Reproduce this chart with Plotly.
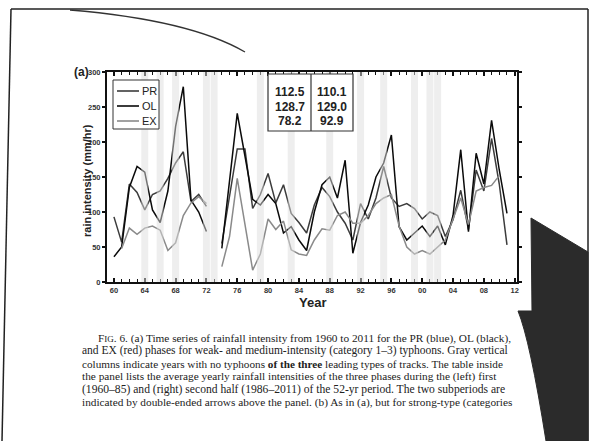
import plotly.graph_objects as go

# ---------------- data ----------------
years = list(range(1960, 2012))

pr = [93, 57, 140, 128, 103, 125, 130, 148, 170, 186, 115, 125, 108, None,
      55, 120, 190, 190, 105, 125, 155, 113, 139, 98, 85, 70, 110, 135, 122,
      100, 84, 60, 112, 90, 120, 165, 120, 108, 112, 105, 90, 100, 95, 65,
      89, 131, 75, 160, 130, 205, 140, 53]

ol = [36, 50, 135, 165, 157, 103, 85, 130, 222, 279, 117, 100, 72, None,
      48, 145, 241, 180, 118, 110, 125, 112, 70, 79, 60, 45, 100, 139, 150,
      120, 174, 41, 85, 110, 150, 170, 210, 79, 60, 70, 80, 65, 80, 53,
      95, 189, 72, 184, 140, 231, 160, 98]

ex = [None, 48, 77, 68, 77, 80, 74, 45, 56, 95, 113, 122, 112, None,
      22, 65, 148, 85, 17, 40, 90, 75, 87, 46, 40, 38, 60, 76, 74,
      95, 100, 84, 84, 95, 112, 120, 125, 80, 50, 40, 45, 40, 50, 60,
      90, 120, 82, 130, 135, 138, 152, None]

gray_years = [1964, 1966, 1968, 1972, 1973, 1979, 1983, 1988, 1992, 1995,
              1999, 2001, 2002]

series_names = ["PR", "OL", "EX"]
series_colors = ["#3c3c3c", "#0a0a0a", "#8a8a8a"]

table_left = ["112.5", "128.7", "78.2"]
table_right = ["110.1", "129.0", "92.9"]

xtick_vals = list(range(1960, 2013, 4))
xtick_text = ["60", "64", "68", "72", "76", "80", "84", "88", "92", "96",
              "00", "04", "08", "12"]
ytick_vals = [0, 50, 100, 150, 200, 250, 300]

caption = [
    "F<span style='font-size:9px'>IG</span>. 6. (a) Time series of rainfall intensity from 1960 to 2011 for the PR (blue), OL (black),",
    "and EX (red) phases for weak- and medium-intensity (category 1–3) typhoons. Gray vertical",
    "columns indicate years with no typhoons <b>of the three</b> leading types of tracks. The table inside",
    "the panel lists the average yearly rainfall intensities of the three phases during the (left) first",
    "(1960–85) and (right) second half (1986–2011) of the 52-yr period. The two subperiods are",
    "indicated by double-ended arrows above the panel. (b) As in (a), but for strong-type (categories",
]
caption_sizes = [11.3, 11.5, 11.2, 11.3, 11.6, 11.3]

# ---------------- layout helpers ----------------
W, H = 595, 441
L, R, T, B = 107, 517, 72, 282


def px(x):
    return (x - L) / (R - L)


def py(y):
    return (B - y) / (B - T)


fig = go.Figure()
for name, vals, col in zip(series_names, [pr, ol, ex], series_colors):
    fig.add_trace(go.Scatter(x=years, y=vals, mode="lines", name=name,
                             line=dict(color=col, width=1.5),
                             connectgaps=False, showlegend=False))

shapes = []
# gray columns
for yr in gray_years:
    shapes.append(dict(type="rect", xref="x", yref="paper", x0=yr - 0.45,
                       x1=yr + 0.45, y0=0, y1=1, layer="above",
                       fillcolor="rgba(222,222,222,0.5)", line=dict(width=0)))

# legend box
shapes.append(dict(type="rect", xref="paper", yref="paper", x0=px(113), x1=px(159),
                   y0=py(129), y1=py(80), line=dict(color="#333", width=1),
                   fillcolor="white", layer="above"))
ann = []
for i, (name, col) in enumerate(zip(series_names, series_colors)):
    yy = 91 + i * 15
    shapes.append(dict(type="line", xref="paper", yref="paper", x0=px(117), x1=px(139),
                       y0=py(yy), y1=py(yy), line=dict(color=col, width=1.6), layer="above"))
    ann.append(dict(text=name, xref="paper", yref="paper", x=px(140), y=py(yy),
                    xanchor="left", yanchor="middle", showarrow=False,
                    font=dict(family="Liberation Sans", size=11, color="#222")))

# table box
shapes.append(dict(type="rect", xref="paper", yref="paper", x0=px(268), x1=px(353),
                   y0=py(131), y1=py(74), line=dict(color="#333", width=1.2),
                   fillcolor="white", layer="above"))
shapes.append(dict(type="line", xref="paper", yref="paper", x0=px(311), x1=px(311),
                   y0=py(131), y1=py(74), line=dict(color="#333", width=1.2), layer="above"))
for i, (a, b) in enumerate(zip(table_left, table_right)):
    yy = 92 + i * 14.5
    ann.append(dict(text="<b>%s</b>" % a, xref="paper", yref="paper", x=px(290), y=py(yy),
                    xanchor="center", yanchor="middle", showarrow=False,
                    font=dict(family="Liberation Sans", size=12, color="#222")))
    ann.append(dict(text="<b>%s</b>" % b, xref="paper", yref="paper", x=px(332), y=py(yy),
                    xanchor="center", yanchor="middle", showarrow=False,
                    font=dict(family="Liberation Sans", size=12, color="#222")))

# double-ended arrows
yarr = (B - 65) / ((B - T) / 300)
for x0, x1 in [(1960.2, 1984.9), (1986.1, 2011)]:
    ann.append(dict(x=x1, y=yarr, xref="x", yref="y", ax=x0, ay=yarr, axref="x", ayref="y",
                    text="", showarrow=True, arrowhead=2, arrowside="end+start",
                    arrowsize=1.1, arrowwidth=2.2, arrowcolor="#111"))

# labels
ann.append(dict(text="<b>(a)</b>", xref="paper", yref="paper", x=px(91), y=py(72),
                xanchor="right", yanchor="middle", showarrow=False,
                font=dict(family="Liberation Sans", size=12, color="#222")))
ann.append(dict(text="<b>rain intensity (mm/hr)</b>", xref="paper", yref="paper",
                x=px(87), y=py(181), textangle=-90, xanchor="center", yanchor="middle",
                showarrow=False, font=dict(family="Liberation Sans", size=11, color="#222")))
ann.append(dict(text="<b>Year</b>", xref="paper", yref="paper", x=px(312), y=py(302),
                xanchor="center", yanchor="middle", showarrow=False,
                font=dict(family="Liberation Sans", size=13, color="#222")))

# caption
for i, (line, fs) in enumerate(zip(caption, caption_sizes)):
    xx = 96 if i == 0 else 80
    ann.append(dict(text=line, xref="paper", yref="paper", x=px(xx), y=py(338 + i * 12.9),
                    xanchor="left", yanchor="middle", showarrow=False,
                    font=dict(family="Liberation Serif", size=fs, color="#222")))

# page decorations: frame, pencil curve, dark binding shadow
shapes.append(dict(type="line", xref="paper", yref="paper", x0=px(11), y0=py(9),
                   x1=px(588), y1=py(9), line=dict(color="#222", width=1.5)))
shapes.append(dict(type="line", xref="paper", yref="paper", x0=px(11), y0=py(9),
                   x1=px(2), y1=py(441), line=dict(color="#222", width=1.5)))
shapes.append(dict(type="line", xref="paper", yref="paper", x0=px(588), y0=py(9),
                   x1=px(588), y1=py(441), line=dict(color="#222", width=1.5)))
curve = "M %f,%f Q %f,%f %f,%f" % (px(70), py(10), px(190), py(20), px(245), py(52))
shapes.append(dict(type="path", xref="paper", yref="paper", path=curve,
                   line=dict(color="#333", width=1.3)))
dark = ("M %f,%f L %f,%f L %f,%f L %f,%f Q %f,%f %f,%f L %f,%f Z" %
        (px(531), py(218), px(588), py(252), px(588), py(441), px(546), py(441),
         px(530), py(340), px(518), py(311), px(532), py(311)))
shapes.append(dict(type="path", xref="paper", yref="paper", path=dark,
                   fillcolor="#2b2b2b", line=dict(color="#2b2b2b", width=1)))

fig.update_layout(
    width=W, height=H, autosize=False,
    margin=dict(l=L, r=W - R, t=T, b=H - B, pad=0),
    paper_bgcolor="white", plot_bgcolor="white",
    shapes=shapes, annotations=ann, showlegend=False,
    xaxis=dict(range=[1959.1, 2012.3], tickvals=xtick_vals, ticktext=xtick_text,
               ticks="inside", ticklen=4, tickwidth=1.5, tickcolor="#111",
               showline=True, linecolor="#111", linewidth=2, mirror="ticks",
               showgrid=False, zeroline=False,
               minor=dict(dtick=1, tick0=1960, ticks="inside", ticklen=3,
                          tickcolor="#111", tickwidth=1.2),
               tickfont=dict(family="Liberation Sans", size=7.5, color="#333", weight="bold")),
    yaxis=dict(range=[0, 300], tickvals=ytick_vals, ticks="outside", ticklen=3,
               tickwidth=1.5, tickcolor="#111", showline=True, linecolor="#111",
               linewidth=2, mirror="ticks", showgrid=False, zeroline=False,
               tickfont=dict(family="Liberation Sans", size=7.5, color="#333", weight="bold")),
)

fig.write_html("out.html", config={"displayModeBar": False},
               post_script="document.body.style.margin='0';document.body.style.overflow='hidden';")
